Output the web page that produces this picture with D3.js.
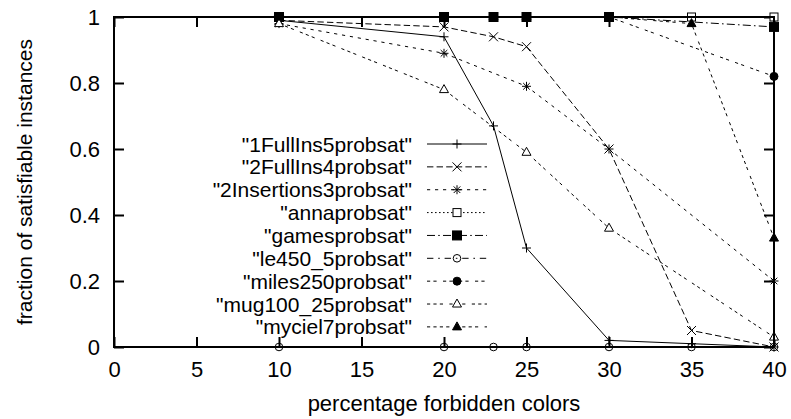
<!DOCTYPE html>
<html>
<head>
<meta charset="utf-8">
<script src="https://cdn.jsdelivr.net/npm/d3@7"></script>
<style>
  body { margin: 0; background: #fff; }
  svg text { font-family: "Liberation Sans", Arial, Helvetica, sans-serif; fill: #000; }
</style>
</head>
<body>
<div id="chart"></div>
<script>
// series names, as printed in the legend
var seriesNames = [
    '"1FullIns5probsat"', '"2FullIns4probsat"', '"2Insertions3probsat"',
    '"annaprobsat"', '"gamesprobsat"', '"le450_5probsat"',
    '"miles250probsat"', '"mug100_25probsat"', '"myciel7probsat"'
];

// percentage forbidden colors (x) and fraction satisfiable (y) per series
var fullIns5X = [10, 20, 23, 25, 30, 35, 40];
var fullIns5Y = [0.99, 0.94, 0.67, 0.30, 0.02, 0.01, 0];
var fullIns4X = [10, 20, 23, 25, 30, 35, 40];
var fullIns4Y = [0.99, 0.97, 0.94, 0.91, 0.60, 0.05, 0];
var insertions3X = [10, 20, 25, 30, 40];
var insertions3Y = [0.98, 0.89, 0.79, 0.60, 0.20];
var annaX = [10, 20, 23, 25, 30, 35, 40];
var annaY = [1, 1, 1, 1, 1, 1, 1];
var gamesX = [10, 20, 23, 25, 30, 40];
var gamesY = [1, 1, 1, 1, 1, 0.97];
var le450X = [10, 20, 23, 25, 30, 35, 40];
var le450Y = [0, 0, 0, 0, 0, 0, 0];
var milesX = [10, 20, 23, 25, 30, 40];
var milesY = [1, 1, 1, 1, 1, 0.82];
var mugX = [10, 20, 25, 30, 40];
var mugY = [0.98, 0.78, 0.59, 0.36, 0.03];
var mycielX = [10, 20, 23, 25, 30, 35, 40];
var mycielY = [1, 1, 1, 1, 1, 0.98, 0.33];

var xTicks = [0, 5, 10, 15, 20, 25, 30, 35, 40];
var yTicks = [0, 0.2, 0.4, 0.6, 0.8, 1];

var seriesX = [fullIns5X, fullIns4X, insertions3X, annaX, gamesX, le450X, milesX, mugX, mycielX];
var seriesY = [fullIns5Y, fullIns4Y, insertions3Y, annaY, gamesY, le450Y, milesY, mugY, mycielY];

// gnuplot-like dash types and point types
var u = 1.6;
var dashes = [null, [4, 2], [2, 3], [1, 1.5], [5, 2, 1, 2], [4, 3, 1, 3],
              [2, 2, 2, 4], [2, 2, 2, 2, 2, 4], [2, 2, 2, 2, 2, 2, 2, 4]];
var points = ['plus', 'cross', 'star', 'box', 'boxF', 'circ', 'circF', 'tri', 'triF'];

var W = 791, H = 419;
var margin = {left: 114, right: 17, top: 17, bottom: 72};

var svg = d3.select('#chart').append('svg')
    .attr('width', W).attr('height', H);

var x = d3.scaleLinear().domain([0, 40]).range([margin.left, W - margin.right]);
var y = d3.scaleLinear().domain([0, 1]).range([H - margin.bottom, margin.top]);

function drawPoint(g, type, cx, cy) {
    var s = 4.5;
    var p = g.append('g').attr('transform', 'translate(' + cx + ',' + cy + ')')
        .attr('stroke', '#000').attr('stroke-width', 1).attr('fill', 'none');
    if (type == 'plus' || type == 'star') {
        p.append('path').attr('d', 'M' + (-s) + ',0H' + s + 'M0,' + (-s) + 'V' + s);
    }
    if (type == 'cross' || type == 'star') {
        var c = type == 'star' ? 3.3 : s;
        p.append('path').attr('d', 'M' + (-c) + ',' + (-c) + 'L' + c + ',' + c + 'M' + (-c) + ',' + c + 'L' + c + ',' + (-c));
    }
    if (type == 'box') p.append('rect').attr('x', -4).attr('y', -4).attr('width', 8).attr('height', 8).attr('fill', '#fff');
    if (type == 'boxF') p.append('rect').attr('x', -4.5).attr('y', -4.5).attr('width', 9).attr('height', 9).attr('fill', '#000');
    if (type == 'circ') p.append('circle').attr('r', 3.8).attr('fill', 'none');
    if (type == 'circF') p.append('circle').attr('r', 4).attr('fill', '#000');
    if (type == 'tri') p.append('path').attr('d', 'M0,-5L4.5,3L-4.5,3Z').attr('fill', '#fff');
    if (type == 'triF') p.append('path').attr('d', 'M0,-5L4.5,3L-4.5,3Z').attr('fill', '#000');
}

// axes with inner ticks, mirrored on top and right
var fontSize = 22;
svg.append('g')
    .attr('transform', 'translate(0,' + y(0) + ')')
    .call(d3.axisBottom(x).tickValues(xTicks).tickSize(-10).tickPadding(14).tickFormat(d3.format('d')));
svg.append('g')
    .attr('transform', 'translate(' + x(0) + ',0)')
    .call(d3.axisLeft(y).tickValues(yTicks).tickSize(-10).tickPadding(14).tickFormat(function(d) { return String(d); }));
svg.append('g')
    .attr('transform', 'translate(0,' + y(1) + ')')
    .call(d3.axisTop(x).tickValues(xTicks).tickSize(-10).tickFormat(''));
svg.append('g')
    .attr('transform', 'translate(' + x(40) + ',0)')
    .call(d3.axisRight(y).tickValues(yTicks).tickSize(-10).tickFormat(''));

svg.selectAll('.domain').remove();
svg.selectAll('.tick line').attr('stroke', '#000').attr('stroke-width', 2);
svg.selectAll('.tick text').attr('font-size', fontSize)
    .attr('font-family', '"Liberation Sans", Arial, sans-serif').attr('fill', '#000');

// legend
var legendX = 412, legendY0 = 144, legendDy = 22.86;
var legend = svg.append('g');
seriesNames.forEach(function(name, i) {
    var ly = legendY0 + i * legendDy;
    legend.append('text')
        .attr('x', legendX).attr('y', ly).attr('dy', '0.36em')
        .attr('text-anchor', 'end').attr('font-size', 21)
        .text(name);
    legend.append('line')
        .attr('x1', 427).attr('x2', 487).attr('y1', ly).attr('y2', ly)
        .attr('stroke', '#000').attr('stroke-width', 1)
        .attr('stroke-dasharray', dashes[i] ? dashes[i].map(function(v) { return v * u; }).join(',') : null);
    drawPoint(legend, points[i], 457, ly);
});

// data lines and points
var line = d3.line().x(function(d) { return x(d[0]); }).y(function(d) { return y(d[1]); });
seriesNames.forEach(function(name, i) {
    var pts = seriesX[i].map(function(v, k) { return [v, seriesY[i][k]]; });
    var g = svg.append('g');
    g.append('path').datum(pts)
        .attr('d', line).attr('fill', 'none')
        .attr('stroke', '#000').attr('stroke-width', 1)
        .attr('stroke-dasharray', dashes[i] ? dashes[i].map(function(v) { return v * u; }).join(',') : null);
    pts.forEach(function(p) { drawPoint(g, points[i], x(p[0]), y(p[1])); });
});

// border
svg.append('rect')
    .attr('x', x(0)).attr('y', y(1))
    .attr('width', x(40) - x(0)).attr('height', y(0) - y(1))
    .attr('fill', 'none').attr('stroke', '#000').attr('stroke-width', 2);

// axis titles
svg.append('text')
    .attr('x', (x(0) + x(40)) / 2).attr('y', 411)
    .attr('text-anchor', 'middle').attr('font-size', fontSize)
    .text('percentage forbidden colors');
svg.append('text')
    .attr('transform', 'translate(32,' + ((y(0) + y(1)) / 2) + ') rotate(-90)')
    .attr('text-anchor', 'middle').attr('font-size', 21)
    .text('fraction of satisfiable instances');
</script>
</body>
</html>
